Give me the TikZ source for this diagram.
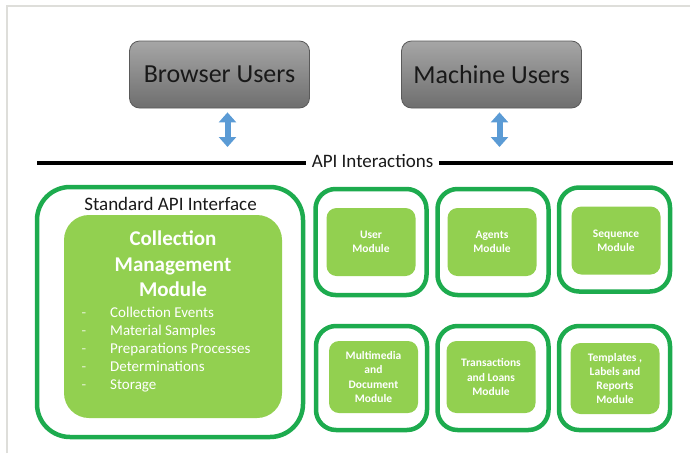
\documentclass[tikz,border=0pt]{standalone}
\usepackage{fontspec}
\setmainfont{Carlito}
\usepackage{tikz}
\usetikzlibrary{arrows.meta}
\definecolor{apigreen}{HTML}{1DAB4E}
\definecolor{modgreen}{HTML}{92D050}
\definecolor{arrowblue}{HTML}{5B9BD5}
\definecolor{framegray}{HTML}{DEDEDA}
\definecolor{graytop}{HTML}{A6A6A6}
\definecolor{graybottom}{HTML}{6E6E6E}
\definecolor{boxedge}{HTML}{5A5A5A}
\tikzset{
	userbox/.style={draw=boxedge, line width=0.8pt, rounded corners=10pt, top color=graytop, bottom color=graybottom, minimum width=180pt, minimum height=67pt, font=\fontsize{26}{31}\selectfont, text=black!90},
	updown/.style={draw=arrowblue, line width=6pt, {Triangle[width=17pt,length=10pt]}-{Triangle[width=17pt,length=10pt]}, shorten <=4pt, shorten >=16pt},
	apiline/.style={line width=4pt, black},
	bigframe/.style={draw=apigreen, line width=4.5pt, rounded corners=33pt, minimum width=266pt, minimum height=250pt},
	modframe/.style={draw=apigreen, line width=4.5pt, rounded corners=20pt, minimum width=111pt},
	greenbox/.style={fill=modgreen, rounded corners=#1},
	greenbox/.default=10pt,
	headtext/.style={font=\fontsize{19}{23}\selectfont, text=black!90, inner sep=0pt},
	cmmtext/.style={font=\fontsize{21}{25.5}\selectfont\bfseries, text=white, align=center},
	itemtext/.style={font=\fontsize{15}{18}\selectfont, text=white, anchor=base west, inner sep=0pt},
	itemdash/.style={font=\fontsize{15}{18}\selectfont, text=white!75!modgreen, anchor=base, inner sep=0pt},
	modtext/.style={greenbox, font=\fontsize{11.5}{14.2}\selectfont\bfseries, text=white, align=center, minimum width=89pt}
}
\begin{document}
\begin{tikzpicture}[x=1pt, y=-1pt]
	\useasboundingbox (0, 0) rectangle (690, 453);
	\draw [framegray, line width=1.5pt] (7, 453) -- (7, 6) -- (690, 6);

	% users
	\node[userbox] (browser) at (219.5, 74.5) {Browser Users};
	\node[userbox] (machine) at (491.5, 74.5) {Machine Users};

	% api line
	\coordinate (lineL) at (37, 163);
	\coordinate (lineR) at (673, 163);
	\node[headtext, inner xsep=6pt] (api) at (372.5, 161) {API Interactions};
	\draw [apiline] (lineL) -- (lineL -| api.west);
	\draw [apiline] (lineR -| api.east) -- (lineR);

	\draw [updown] ([xshift=8pt]browser.south) -- ([xshift=8pt]browser.south |- lineL);
	\draw [updown] ([xshift=8pt]machine.south) -- ([xshift=8pt]machine.south |- lineL);

	% standard api interface
	\node[bigframe] (std) at (170, 312) {};
	\node[headtext] (stdtitle) at (170.5, 204) {Standard API Interface};
	\node[greenbox=25pt, minimum width=218pt, minimum height=203pt] (cmm) at (173, 316.5) {};
	\node[cmmtext] (cmmtitle) at (173, 264) {Collection\\Management\\Module};

	\node[itemdash] (dash1) at (84, 317) {-};
	\node[itemdash] (dash2) at (84, 335) {-};
	\node[itemdash] (dash3) at (84, 353) {-};
	\node[itemdash] (dash4) at (84, 371) {-};
	\node[itemdash] (dash5) at (84, 389) {-};
	\node[itemtext] (item1) at (110, 317) {Collection Events};
	\node[itemtext] (item2) at (110, 335) {Material Samples};
	\node[itemtext] (item3) at (110, 353) {Preparations Processes};
	\node[itemtext] (item4) at (110, 371) {Determinations};
	\node[itemtext] (item5) at (110, 389) {Storage};

	% modules, top row
	\node[modframe, minimum height=106pt] (userframe) at (371, 242) {};
	\node[modframe, minimum height=106pt] (agentsframe) at (493, 242) {};
	\node[modframe, minimum height=104pt] (seqframe) at (614.5, 239.5) {};
	\node[modtext, minimum height=68pt] (user) at (371, 242) {User\\Module};
	\node[modtext, minimum height=68pt] (agents) at (492, 242) {Agents\\Module};
	\node[modtext, minimum height=68pt] (seq) at (616, 240.5) {Sequence\\Module};

	% modules, bottom row
	\node[modframe, minimum height=104pt] (mediaframe) at (371.5, 378) {};
	\node[modframe, minimum height=104pt] (transframe) at (493, 378) {};
	\node[modframe, minimum height=104pt] (tmplframe) at (614.5, 378) {};
	\node[modtext, minimum height=72pt] (media) at (373.5, 377) {Multimedia\\and\\Document\\Module};
	\node[modtext, minimum height=72pt] (trans) at (491, 377) {Transactions\\and Loans\\Module};
	\node[modtext, minimum height=71pt] (tmpl) at (615, 378.5) {Templates ,\\Labels and\\Reports\\Module};
\end{tikzpicture}
\end{document}
